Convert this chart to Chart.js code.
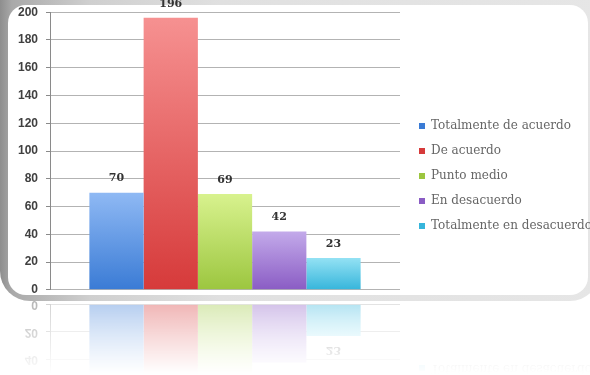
<!DOCTYPE html>
<html>
<head>
<meta charset="utf-8">
<script src="https://cdn.jsdelivr.net/npm/chart.js@4.4.0/dist/chart.umd.min.js"></script>
<style>
  html, body { margin: 0; padding: 0; background: #fff; }
  #escena { position: relative; width: 590px; height: 375px; overflow: hidden; background: #fff; }
  #marco {
    position: absolute; left: 0; top: -30px; width: 600px; height: 331px;
    border-radius: 0 0 30px 30px;
    background: linear-gradient(to right, #8e8e8e 0px, #a9a9a9 12px, #cfcfcf 90px, #e0e0e0 220px, #e6e6e6 100%);
  }
  #panel { position: absolute; left: 8px; top: 5px; width: 580px; height: 290px; border-radius: 18px; background: #fff; }
  #grafico { position: absolute; left: 0; top: -3px; }
  #reflejo {
    position: absolute; left: 0; top: 289px; transform: scaleY(-1);
    -webkit-mask-image: linear-gradient(to top, rgba(0,0,0,.45) 0px, rgba(0,0,0,0) 85px);
    mask-image: linear-gradient(to top, rgba(0,0,0,.45) 0px, rgba(0,0,0,0) 85px);
  }
</style>
</head>
<body>
<div id="escena">
  <div id="marco"></div>
  <div id="panel"></div>
  <canvas id="reflejo" width="602" height="308"></canvas>
  <canvas id="grafico" width="602" height="308"></canvas>
</div>
<script>
//* DATOS
const categorias = ['Totalmente de acuerdo', 'De acuerdo', 'Punto medio', 'En desacuerdo', 'Totalmente en desacuerdo'];
const valores = [70, 196, 69, 42, 23];
const ticksY = [0, 20, 40, 60, 80, 100, 120, 140, 160, 180, 200];

const colorArriba = ['#8fb9f4', '#f69191', '#d8f28e', '#c3aaea', '#94e2f4'];
const colorAbajo = ['#3a7bd5', '#d63a3a', '#9cc63f', '#8a5cc4', '#36b5db'];

// degradado vertical de cada barra, de su tope a la base
const degradado = (ctx, i) => {
    const chart = ctx.chart;
    const y = chart.scales.y;
    if (!chart.chartArea || !y) return colorAbajo[i];
    const g = chart.ctx.createLinearGradient(0, y.getPixelForValue(valores[i]), 0, y.getPixelForValue(0));
    g.addColorStop(0, colorArriba[i]);
    g.addColorStop(1, colorAbajo[i]);
    return g;
};

const etiquetas = {
    id: 'etiquetas',
    afterDatasetsDraw(chart) {
        const c = chart.ctx;
        c.save();
        c.font = 'bold 11px "DejaVu Serif"';
        c.fillStyle = '#333';
        c.textAlign = 'center';
        c.textBaseline = 'middle';
        chart.data.datasets.forEach((ds, i) => {
            const bar = chart.getDatasetMeta(i).data[0];
            c.fillText(String(ds.data[0]), bar.x, bar.y - 14);
        });
        c.restore();
    }
};

const crearGrafico = (id) => new Chart(document.getElementById(id), {
    type: 'bar',
    data: {
        labels: [''],
        datasets: categorias.map((nombre, i) => ({
            label: nombre,
            data: [valores[i]],
            backgroundColor: (ctx) => degradado(ctx, i),
            borderWidth: 0,
            categoryPercentage: 0.775,
            barPercentage: 1
        }))
    },
    options: {
        responsive: false,
        animation: false,
        devicePixelRatio: 1,
        layout: { padding: { top: 0, bottom: 0, left: 10, right: 0 } },
        scales: {
            x: { display: false },
            y: {
                min: ticksY[0],
                max: ticksY[ticksY.length - 1],
                ticks: {
                    stepSize: ticksY[1] - ticksY[0],
                    padding: 8,
                    color: '#404040',
                    font: { family: 'Liberation Sans', size: 12, weight: 'bold' }
                },
                grid: { color: '#b3b3b3', lineWidth: 1, tickLength: 4, tickColor: '#8a8a8a' },
                border: { color: '#8a8a8a' },
                afterFit(s) { s.width = 40; }
            },
            y2: {
                position: 'right',
                display: true,
                grid: { display: false, drawTicks: false },
                border: { display: false },
                ticks: { display: false },
                afterFit(s) { s.width = 6; }
            }
        },
        plugins: {
            tooltip: { enabled: false },
            legend: {
                position: 'right',
                maxWidth: 320,
                title: { display: true, text: ' ', padding: { top: 38, bottom: 0 }, font: { size: 10 } },
                labels: {
                    boxWidth: 6,
                    boxHeight: 6,
                    padding: 13,
                    color: '#1c1c1c',
                    font: { family: 'DejaVu Serif', size: 12 },
                    generateLabels(chart) {
                        return chart.data.datasets.map((ds, i) => ({
                            text: ds.label,
                            fillStyle: colorAbajo[i],
                            strokeStyle: colorAbajo[i],
                            lineWidth: 0,
                            hidden: false,
                            datasetIndex: i
                        }));
                    }
                }
            }
        }
    },
    plugins: [etiquetas]
});

crearGrafico('grafico');
crearGrafico('reflejo');
</script>
</body>
</html>
